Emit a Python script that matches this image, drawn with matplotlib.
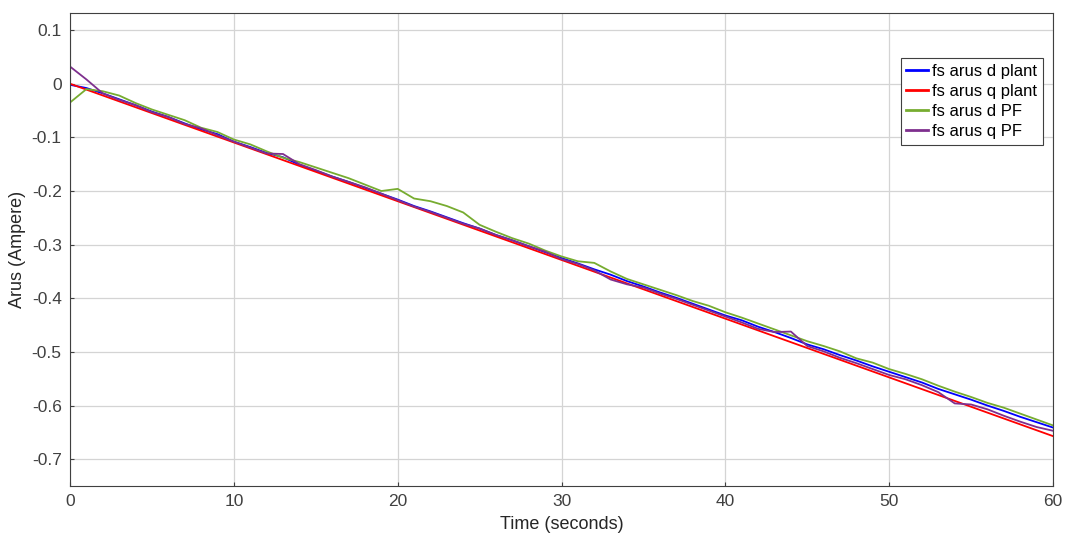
import matplotlib
matplotlib.use("Agg")
import matplotlib.pyplot as plt

plt.rcParams["font.family"] = ["Liberation Sans", "DejaVu Sans"]

# time axis (seconds), 1 s steps
t = list(range(61))

# fs arus q plant: straight reference line
t_q_plant = [0, 60]
q_plant = [0.0, -0.657]

d_plant = [-0.002, -0.008, -0.018, -0.029, -0.040, -0.052, -0.062, -0.074, -0.085, -0.094,
           -0.108, -0.118, -0.129, -0.137, -0.151, -0.162, -0.173, -0.183, -0.194, -0.205,
           -0.216, -0.228, -0.238, -0.249, -0.260, -0.270, -0.282, -0.292, -0.303, -0.314,
           -0.325, -0.335, -0.346, -0.356, -0.368, -0.378, -0.389, -0.399, -0.410, -0.421,
           -0.432, -0.441, -0.453, -0.463, -0.474, -0.486, -0.495, -0.506, -0.516, -0.527,
           -0.537, -0.547, -0.557, -0.569, -0.579, -0.589, -0.600, -0.610, -0.621, -0.631,
           -0.641]

d_pf = [-0.035, -0.010, -0.014, -0.022, -0.036, -0.048, -0.058, -0.068, -0.082, -0.090,
        -0.104, -0.113, -0.126, -0.138, -0.146, -0.156, -0.166, -0.176, -0.188, -0.200,
        -0.196, -0.214, -0.219, -0.228, -0.240, -0.263, -0.276, -0.288, -0.298, -0.311,
        -0.322, -0.331, -0.334, -0.350, -0.364, -0.374, -0.384, -0.394, -0.405, -0.414,
        -0.426, -0.436, -0.447, -0.458, -0.469, -0.480, -0.489, -0.499, -0.512, -0.520,
        -0.532, -0.541, -0.551, -0.563, -0.574, -0.584, -0.595, -0.604, -0.615, -0.626,
        -0.637]

q_pf = [0.032, 0.008, -0.018, -0.030, -0.040, -0.053, -0.062, -0.075, -0.083, -0.096,
        -0.108, -0.119, -0.130, -0.131, -0.150, -0.161, -0.173, -0.183, -0.193, -0.205,
        -0.217, -0.229, -0.239, -0.250, -0.261, -0.270, -0.282, -0.292, -0.303, -0.313,
        -0.327, -0.336, -0.348, -0.365, -0.374, -0.380, -0.391, -0.401, -0.412, -0.423,
        -0.434, -0.445, -0.457, -0.463, -0.462, -0.489, -0.499, -0.511, -0.521, -0.532,
        -0.543, -0.551, -0.562, -0.575, -0.596, -0.598, -0.607, -0.619, -0.630, -0.640,
        -0.647]

x_ticks = [0, 10, 20, 30, 40, 50, 60]
y_ticks = [0.1, 0, -0.1, -0.2, -0.3, -0.4, -0.5, -0.6, -0.7]
y_labels = ["0.1", "0", "-0.1", "-0.2", "-0.3", "-0.4", "-0.5", "-0.6", "-0.7"]

fig = plt.figure(figsize=(10.66, 5.39), dpi=100)
ax = fig.add_axes([0.0657, 0.0983, 0.9221, 0.8777])

ax.plot(t, d_plant, color="#0000ff", lw=1.3, label="fs arus d plant")
ax.plot(t_q_plant, q_plant, color="#ff0000", lw=1.3, label="fs arus q plant")
ax.plot(t, d_pf, color="#77ac30", lw=1.3, label="fs arus d PF")
ax.plot(t, q_pf, color="#7e2f8e", lw=1.3, label="fs arus q PF")

ax.set_xlim(0, 60)
ax.set_ylim(-0.75, 0.132)
ax.set_xticks(x_ticks)
ax.set_yticks(y_ticks)
ax.set_yticklabels(y_labels)
ax.grid(True, color="#d4d4d4", lw=0.9)
ax.set_axisbelow(True)
ax.tick_params(direction="in", length=3, colors="#404040", labelsize=12.5, pad=6)
for s in ax.spines.values():
    s.set_color("#404040")
    s.set_linewidth(0.8)

ax.set_xlabel("Time (seconds)", fontsize=13, color="#262626", labelpad=5)
ax.set_ylabel("Arus (Ampere)", fontsize=13, color="#262626", labelpad=4)

leg = ax.legend(loc="upper right", bbox_to_anchor=(0.99, 0.905), fontsize=12,
                fancybox=False, framealpha=1, edgecolor="#404040",
                handlelength=1.3, handletextpad=0.25, borderpad=0.35,
                labelspacing=0.3, borderaxespad=0)
leg.get_frame().set_linewidth(0.8)
for h in leg.get_lines():
    h.set_linewidth(2.0)

fig.savefig("out.png", dpi=100)
